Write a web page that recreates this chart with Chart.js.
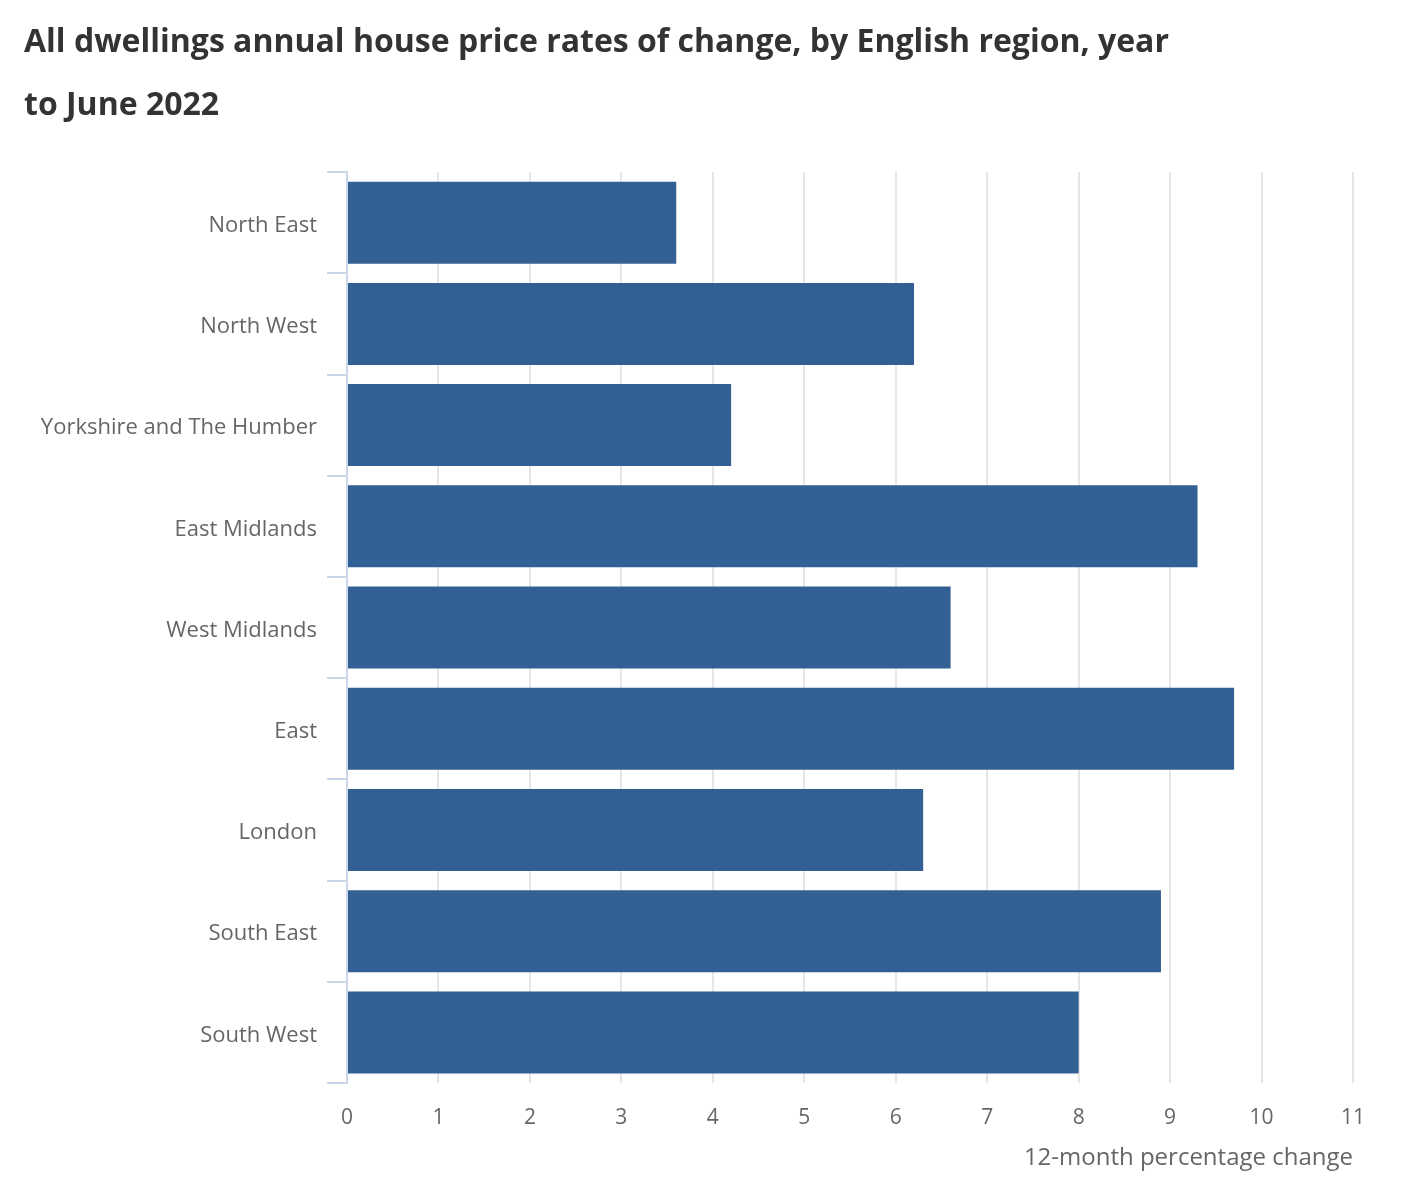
<!DOCTYPE html>
<html>
<head>
<meta charset="utf-8">
<script src="https://cdn.jsdelivr.net/npm/chart.js@4"></script>
<style>
  html, body { margin: 0; padding: 0; background: #ffffff; }
  #wrap { position: relative; width: 1418px; height: 1196px; }
</style>
</head>
<body>
<div id="wrap"><canvas id="c" width="1418" height="1196"></canvas></div>
<script>
const titleLines = ["All dwellings annual house price rates of change, by English region, year", "to June 2022"];
const regions = ["North East", "North West", "Yorkshire and The Humber", "East Midlands", "West Midlands", "East", "London", "South East", "South West"];
const changes = [3.6, 6.2, 4.2, 9.3, 6.6, 9.7, 6.3, 8.9, 8.0];
const xTicks = [0, 1, 2, 3, 4, 5, 6, 7, 8, 9, 10, 11];
const xAxisTitle = "12-month percentage change";

const FONT = "'Open Sans', 'Noto Sans', sans-serif";

new Chart(document.getElementById('c'), {
  type: 'bar',
  data: {
    labels: regions,
    datasets: [{
      data: changes,
      backgroundColor: '#336094',
      borderWidth: 0,
      barPercentage: 0.81,
      categoryPercentage: 1.0
    }]
  },
  options: {
    indexAxis: 'y',
    responsive: false,
    animation: false,
    devicePixelRatio: 1,
    layout: { padding: { left: 24, right: 65, top: 0, bottom: 0 } },
    plugins: {
      legend: { display: false },
      tooltip: { enabled: false },
      title: {
        display: true,
        text: titleLines,
        align: 'start',
        color: '#333333',
        font: { family: FONT, size: 32, weight: 'bold', lineHeight: 1.97 },
        padding: { top: 11, bottom: 35 }
      }
    },
    scales: {
      x: {
        type: 'linear',
        min: xTicks[0],
        max: xTicks[xTicks.length - 1],
        afterBuildTicks: (scale) => { scale.ticks = xTicks.map(v => ({ value: v })); },
        afterFit: (scale) => { scale.height = 113; },
        grid: { color: '#e6e6e6', lineWidth: 2, drawTicks: false },
        border: { display: false },
        ticks: { color: '#666666', font: { family: FONT, size: 21 }, padding: 22 },
        title: {
          display: true,
          text: xAxisTitle,
          align: 'end',
          color: '#666666',
          font: { family: FONT, size: 24 },
          padding: { top: 4, bottom: 23 }
        }
      },
      y: {
        afterFit: (scale) => { scale.width = 323; },
        grid: { drawOnChartArea: false, drawTicks: true, tickLength: 20, color: '#ccd6eb', lineWidth: 2, offset: true },
        border: { display: true, color: '#ccd6eb', width: 2 },
        ticks: { color: '#666666', font: { family: FONT, size: 22 }, padding: 10, labelOffset: 3 }
      }
    }
  }
});
</script>
</body>
</html>
